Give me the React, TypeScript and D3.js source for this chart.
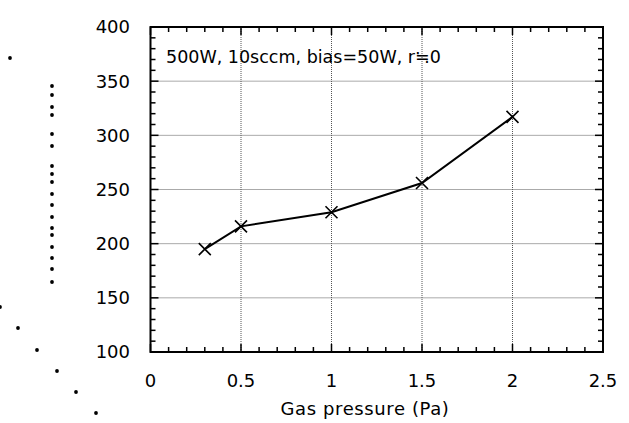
import React from "react";
import * as d3 from "d3";

const pressures = [0.3, 0.5, 1, 1.5, 2];
const values = [195, 216, 229, 256, 317];
const xTicks = [0, 0.5, 1, 1.5, 2, 2.5];
const yTicks = [100, 150, 200, 250, 300, 350, 400];
const annotation = "500W, 10sccm, bias=50W, r≒0";
const xLabel = "Gas pressure (Pa)";
// residual dots left of the y axis (remnants of the original y-axis label)
const dotX = [10, 52, 52, 52, 52, 52, 52, 52, 52, 52, 52, 52, 52, 52, 52, 52, 52, 52, 52, 0, 18, 37, 57, 76, 96];
const dotY = [58, 86, 95, 107, 115, 134, 146, 166, 174, 182, 194, 205, 217, 228, 235, 247, 258, 269, 282, 307, 328, 350, 371, 392, 413];

export default function App() {
  const W = 629, H = 423;
  const L = 150.5, R = 603, T = 27, B = 352;
  const x = d3.scaleLinear().domain([0, 2.5]).range([L, R]);
  const y = d3.scaleLinear().domain([100, 400]).range([B, T]);
  const xMinor = d3.range(0, 2.5001, 0.1);
  const yMinor = d3.range(100, 400.001, 10);
  const line = d3.line<number>().x((_, i) => x(pressures[i])).y((d) => y(d));
  const font = "'DejaVu Sans', 'Open Sans', sans-serif";
  return (
    <svg width={W} height={H} style={{ position: "absolute", left: 0, top: 0 }}>
      <rect width={W} height={H} fill="#fff" />
      {/* grid */}
      {xTicks.slice(1, -1).map((t) => (
        <line key={"gx" + t} x1={x(t)} x2={x(t)} y1={T} y2={B} stroke="#555" strokeWidth={1} strokeDasharray="1,1" />
      ))}
      {yTicks.slice(1, -1).map((t) => (
        <line key={"gy" + t} x1={L} x2={R} y1={y(t)} y2={y(t)} stroke="#555" strokeWidth={1} strokeDasharray="1,1" />
      ))}
      {/* ticks */}
      {xMinor.map((t, i) => {
        const major = i % 5 === 0;
        const len = major ? 8 : 5;
        return (
          <g key={"xm" + i}>
            <line x1={x(t)} x2={x(t)} y1={B} y2={B - len} stroke="#000" strokeWidth={1.5} />
            <line x1={x(t)} x2={x(t)} y1={T} y2={T + len} stroke="#000" strokeWidth={1.5} />
          </g>
        );
      })}
      {yMinor.map((t, i) => {
        const major = i % 5 === 0;
        const len = major ? 8 : 5;
        return (
          <g key={"ym" + i}>
            <line x1={L} x2={L + len} y1={y(t)} y2={y(t)} stroke="#000" strokeWidth={1.5} />
            <line x1={R} x2={R - len} y1={y(t)} y2={y(t)} stroke="#000" strokeWidth={1.5} />
          </g>
        );
      })}
      <rect x={L} y={T} width={R - L} height={B - T} fill="none" stroke="#000" strokeWidth={2} />
      {/* tick labels */}
      {yTicks.map((t) => (
        <text key={"yl" + t} x={130} y={y(t)} dy="0.36em" textAnchor="end" fontFamily={font} fontSize={18} fill="#000">
          {t}
        </text>
      ))}
      {xTicks.map((t) => (
        <text key={"xl" + t} x={x(t)} y={387} textAnchor="middle" fontFamily={font} fontSize={18} fill="#000">
          {t}
        </text>
      ))}
      <text x={365} y={415} textAnchor="middle" fontFamily={font} fontSize={18} letterSpacing={0.6} fill="#000">
        {xLabel}
      </text>
      <text x={166} y={63} fontFamily={font} fontSize={17.5} fill="#000">
        {annotation}
      </text>
      {/* data */}
      <path d={line(values) || ""} fill="none" stroke="#000" strokeWidth={2} />
      {values.map((v, i) => {
        const cx = x(pressures[i]), cy = y(v), s = 6;
        return (
          <path key={"m" + i} d={`M${cx - s},${cy - s}L${cx + s},${cy + s}M${cx - s},${cy + s}L${cx + s},${cy - s}`} stroke="#000" strokeWidth={1.6} />
        );
      })}
      {dotX.map((dx, i) => (
        <circle key={"d" + i} cx={dx} cy={dotY[i]} r={1.9} fill="#000" />
      ))}
    </svg>
  );
}
